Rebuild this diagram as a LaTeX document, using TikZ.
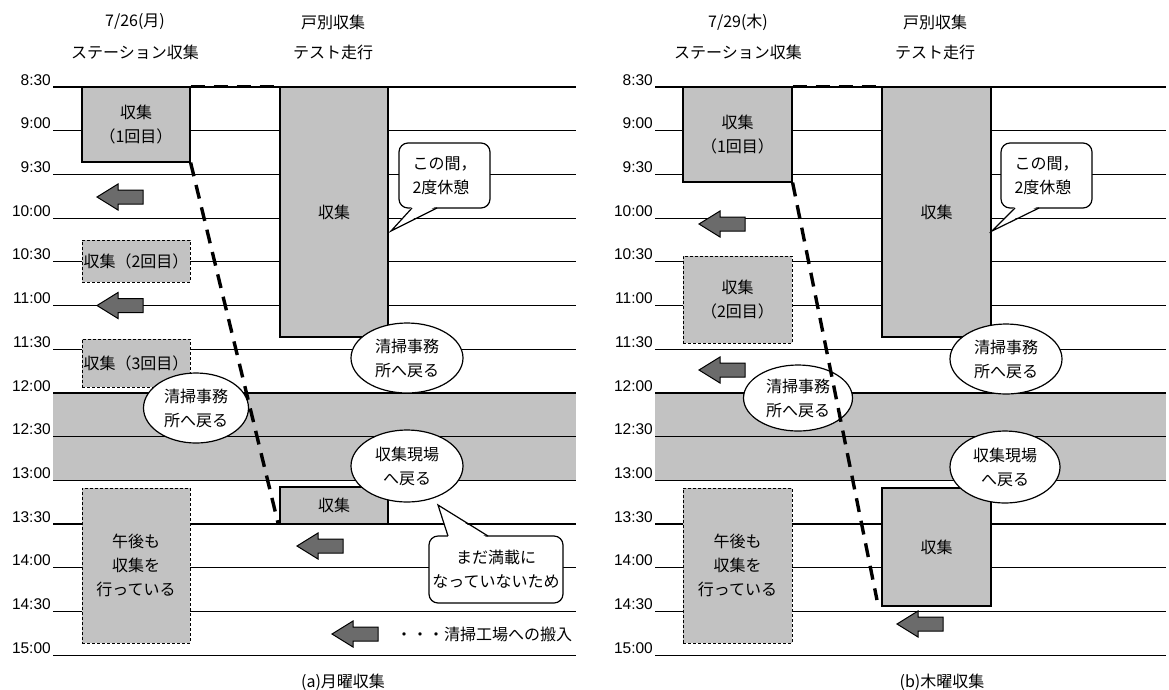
\documentclass[tikz,border=0pt]{standalone}
\usepackage{fontspec}
\setmainfont{Noto Sans CJK JP}
\newfontfamily\timefont{Liberation Sans}
\usetikzlibrary{shapes.geometric}
\definecolor{boxgray}{gray}{0.76}
\definecolor{arrowgray}{gray}{0.42}
\begin{document}
\begin{tikzpicture}[x=1pt,y=-1pt, font=\fontsize{16}{24}\selectfont,
  gridline/.style={line width=1.2pt},
  solidbox/.style={draw, line width=1.2pt, fill=boxgray, inner sep=0pt, align=center},
  dashbox/.style={draw, line width=1pt, dash pattern=on 3pt off 2pt, fill=boxgray, inner sep=0pt, align=center},
  bubble/.style={draw, ellipse, fill=white, line width=1.2pt, inner sep=0pt, align=center},
  callbox/.style={draw, rectangle, rounded corners=9pt, fill=white, line width=1.2pt, inner sep=0pt},
  tailline/.style={line width=1.2pt, line join=miter},
  route/.style={line width=3.4pt, dash pattern=on 14pt off 9pt},
  timelab/.style={anchor=south east, inner sep=0pt, font=\timefont\fontsize{15.5}{18}\selectfont},
  head/.style={inner sep=0pt},
  blockarrow/.pic={\draw[line width=1pt, fill=arrowgray, line join=miter] (-23,0) -- (-2,-13) -- (-2,-7) -- (23,-7) -- (23,7) -- (-2,7) -- (-2,13) -- cycle;}
]
\useasboundingbox (0,0) rectangle (1169,689);

% ---------- bands (lunch) ----------
\fill[boxgray] (53,392.9) rectangle (576,480.3);
\fill[boxgray] (655,392.9) rectangle (1166,480.3);

% ---------- grid lines and time labels ----------
\foreach \t [count=\k from 0] in {8:30,9:00,9:30,10:00,10:30,11:00,11:30,12:00,12:30,13:00,13:30,14:00,14:30,15:00}{
  \pgfmathsetmacro\yy{87+43.7*\k}
  \draw[gridline] (53,\yy) -- (576,\yy);
  \draw[gridline] (655,\yy) -- (1166,\yy);
  \node[timelab] (ta\k) at (51,\yy-1.5) {\t};
  \node[timelab] (tb\k) at (653,\yy-1.5) {\t};
}

% ---------- headers ----------
\node[head] (ha1) at (135,22) {7/26(月)};
\node[head] (ha2) at (135,52) {ステーション収集};
\node[head] (ha3) at (333,22) {戸別収集};
\node[head] (ha4) at (333,52) {テスト走行};
\node[head] (hb1) at (738,22) {7/29(木)};
\node[head] (hb2) at (738,52) {ステーション収集};
\node[head] (hb3) at (935,22) {戸別収集};
\node[head] (hb4) at (935,52) {テスト走行};

% ================= panel (a) =================
\node[solidbox, minimum width=108pt, minimum height=75pt] (a1) at (136,124.5) {収集\\（1回目）};
\node[solidbox, minimum width=108pt, minimum height=250pt] (abig) at (334,212) {収集};
\node[dashbox, minimum width=108pt, minimum height=42pt] (a2) at (136,261) {収集（2回目）};
\node[dashbox, minimum width=108pt, minimum height=48pt] (a3) at (136,363) {収集（3回目）};
\node[dashbox, minimum width=108pt, minimum height=155pt] (apm) at (136,565.5) {午後も\\収集を\\行っている};
\node[solidbox, minimum width=108pt, minimum height=37pt] (apmc) at (334,505.5) {収集};

\pic (ar1) at (120,197) {blockarrow};
\pic (ar2) at (120,305.5) {blockarrow};
\pic (ar3) at (320,546) {blockarrow};
\pic (ar4) at (355,634) {blockarrow};
\node[anchor=west, inner sep=0pt] (leg) at (396,634) {・・・清掃工場への搬入};

\node[bubble, minimum width=105pt, minimum height=70pt] (ae1) at (196,408) {清掃事務\\所へ戻る};
\node[bubble, minimum width=112pt, minimum height=70pt] (ae2) at (407,358) {清掃事務\\所へ戻る};
\node[bubble, minimum width=112pt, minimum height=72pt] (ae3) at (407,466) {収集現場\\へ戻る};

\node[callbox, minimum width=91pt, minimum height=65pt, align=left] (ac1) at (444.5,175.5) {この間，\\2度休憩};
\coordinate (ac1tip) at (391,231);
\fill[white] (412.5,206) -- (436.5,206) -- (ac1tip) -- cycle;
\draw[tailline] (412,208) -- (ac1tip) -- (437,208);

\node[callbox, minimum width=134pt, minimum height=67pt, align=center] (ac2) at (496,569.5) {まだ満載に\\なっていないため};
\coordinate (ac2tip) at (438,505);
\fill[white] (448.5,538) -- (487.5,538) -- (ac2tip) -- cycle;
\draw[tailline] (448,536) -- (ac2tip) -- (488,536);

\draw[route] (a1.north east) -- (abig.north west);
\coordinate (aend) at (278,523);
\draw[route] (a1.south east) -- (aend);

\node[head] (capa) at (343,682) {(a)月曜収集};

% ================= panel (b) =================
\node[solidbox, minimum width=109pt, minimum height=95pt] (b1) at (737.5,134.5) {収集\\（1回目）};
\node[solidbox, minimum width=109pt, minimum height=250pt] (bbig) at (936.5,212) {収集};
\node[dashbox, minimum width=109pt, minimum height=87pt] (b2) at (737.5,299.5) {収集\\（2回目）};
\node[dashbox, minimum width=109pt, minimum height=155pt] (bpm) at (737.5,565.5) {午後も\\収集を\\行っている};
\node[solidbox, minimum width=109pt, minimum height=118pt] (bpmc) at (936.5,547) {収集};

\pic (br1) at (722,224) {blockarrow};
\pic (br2) at (722,370) {blockarrow};
\pic (br3) at (920,624) {blockarrow};

\node[bubble, minimum width=109pt, minimum height=66pt] (be1) at (798,398) {清掃事務\\所へ戻る};
\node[bubble, minimum width=112pt, minimum height=70pt] (be2) at (1006,359) {清掃事務\\所へ戻る};
\node[bubble, minimum width=110pt, minimum height=72pt] (be3) at (1005,467) {収集現場\\へ戻る};

\node[callbox, minimum width=91pt, minimum height=65pt, align=left] (bc1) at (1046.5,175.5) {この間，\\2度休憩};
\coordinate (bc1tip) at (992,231);
\fill[white] (1015.5,206) -- (1038.5,206) -- (bc1tip) -- cycle;
\draw[tailline] (1015,208) -- (bc1tip) -- (1039,208);

\draw[route] (b1.north east) -- (bbig.north west);
\coordinate (bend) at (877,600);
\draw[route] (b1.south east) -- (bend);

\node[head] (capb) at (942,682) {(b)木曜収集};
\end{tikzpicture}
\end{document}
